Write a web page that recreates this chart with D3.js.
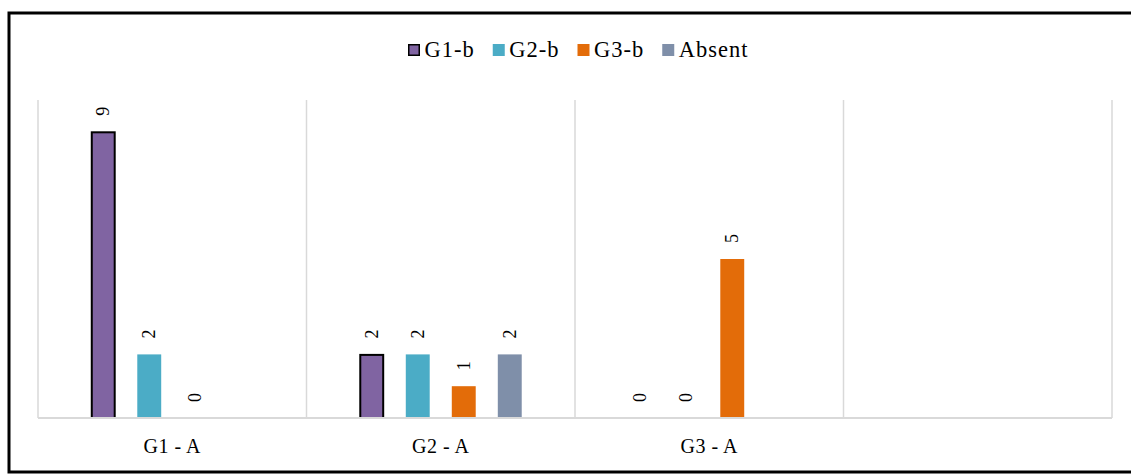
<!DOCTYPE html>
<html>
<head>
<meta charset="utf-8">
<script src="https://cdn.jsdelivr.net/npm/d3@7"></script>
<style>
  html, body { margin: 0; padding: 0; background: #fff; }
  svg { display: block; }
  svg text { font-family: "Liberation Serif", "Times New Roman", Times, "DejaVu Serif", serif; }
</style>
</head>
<body>
<svg id="chart" width="1131" height="475"></svg>
<script>
const categories = ["G1 - A", "G2 - A", "G3 - A", ""];
const seriesNames = ["G1-b", "G2-b", "G3-b", "Absent"];
const seriesColors = ["#8064A2", "#4BACC6", "#E36C09", "#7F8FA9"];
const g1b = [9, 2, 0, null];
const g2b = [2, 2, 0, null];
const g3b = [0, 1, 5, null];
const absent = [null, 2, null, null];
const seriesValues = [g1b, g2b, g3b, absent];
const yMax = 10;

const svg = d3.select("#chart");
const W = 1131, H = 475;
const margin = { left: 38, right: 19, top: 100, bottom: 57 };
const plotW = W - margin.left - margin.right;
const plotH = H - margin.top - margin.bottom;

svg.append("rect").attr("width", W).attr("height", H).attr("fill", "#fff");

// outer frame
svg.append("rect")
  .attr("x", 9).attr("y", 13)
  .attr("width", W + 10).attr("height", 459)
  .attr("fill", "none").attr("stroke", "#000").attr("stroke-width", 3);

const catIdx = categories.map((c, i) => i);
const x0 = d3.scaleBand().domain(catIdx).range([margin.left, margin.left + plotW]).padding(0);
const x1 = d3.scaleBand().domain(seriesNames).range([0, x0.bandwidth()])
  .paddingInner(0.48).paddingOuter(1.158);
const y = d3.scaleLinear().domain([0, yMax]).range([margin.top + plotH, margin.top]);

const grid = svg.append("g");
const bounds = catIdx.map(i => x0(i)).concat([x0(catIdx[catIdx.length - 1]) + x0.bandwidth()]);
grid.selectAll("line.v").data(bounds).join("line")
  .attr("x1", d => d).attr("x2", d => d)
  .attr("y1", y(yMax)).attr("y2", y(0))
  .attr("stroke", "#d9d9d9").attr("stroke-width", 1.5);

const flat = [];
seriesNames.forEach((s, si) => {
  seriesValues[si].forEach((v, ci) => {
    flat.push({ s, si, ci, v });
  });
});

const barG = svg.append("g");
barG.selectAll("rect").data(flat.filter(d => d.v !== null && d.v > 0)).join("rect")
  .attr("x", d => x0(d.ci) + x1(d.s) + (d.si === 0 ? 0.5 : 0))
  .attr("y", d => y(d.v) + (d.si === 0 ? 0.5 : 0))
  .attr("width", d => x1.bandwidth() - (d.si === 0 ? 1 : 0))
  .attr("height", d => y(0) - y(d.v) - (d.si === 0 ? 0.5 : 0))
  .attr("fill", d => seriesColors[d.si])
  .attr("stroke", d => d.si === 0 ? "#000" : "none")
  .attr("stroke-width", 2);

svg.append("line")
  .attr("x1", margin.left).attr("x2", margin.left + plotW)
  .attr("y1", y(0)).attr("y2", y(0))
  .attr("stroke", "#d9d9d9").attr("stroke-width", 2);

svg.append("g").selectAll("text").data(flat.filter(d => d.v !== null)).join("text")
  .attr("transform", d => {
    const cx = x0(d.ci) + x1(d.s) + x1.bandwidth() / 2;
    const cy = y(d.v) - 16;
    return `translate(${cx},${cy}) rotate(-90)`;
  })
  .attr("text-anchor", "start")
  .attr("dominant-baseline", "central")
  .attr("font-size", 18)
  .attr("fill", "#000")
  .text(d => d.v);

const xAxis = d3.axisBottom(x0).tickSize(0).tickFormat(i => categories[i]);
const ax = svg.append("g").attr("transform", `translate(0,${y(0)})`).call(xAxis);
ax.attr("font-family", null);
ax.select(".domain").remove();
ax.selectAll("text")
  .attr("y", 35).attr("dy", 0)
  .attr("font-size", 20)
  .attr("letter-spacing", 0.5)
  .attr("fill", "#000");

const legend = svg.append("g");
let lx = 408;
seriesNames.forEach((s, i) => {
  const g = legend.append("g");
  g.append("rect")
    .attr("x", lx + (i === 0 ? 0.75 : 0)).attr("y", 44 + (i === 0 ? 0.75 : 0))
    .attr("width", 12 - (i === 0 ? 1.5 : 0)).attr("height", 12 - (i === 0 ? 1.5 : 0))
    .attr("fill", seriesColors[i])
    .attr("stroke", i === 0 ? "#000" : "none").attr("stroke-width", 1.5);
  const t = g.append("text")
    .attr("x", lx + 16.5).attr("y", 57)
    .attr("font-size", 22.5)
    .attr("letter-spacing", 1)
    .attr("fill", "#000")
    .text(s);
  const w = t.node().getComputedTextLength();
  lx += 16.5 + w + 18;
});
</script>
</body>
</html>
